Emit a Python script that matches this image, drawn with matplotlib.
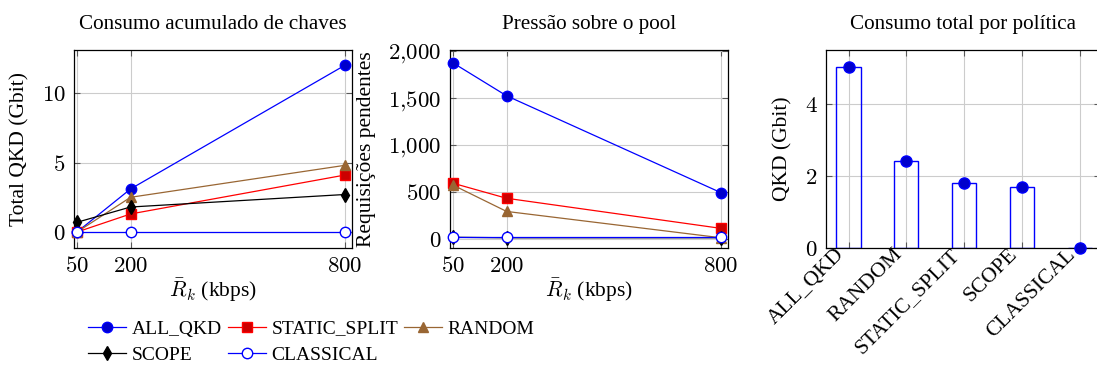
import numpy as np
import matplotlib
matplotlib.use("Agg")
import matplotlib.pyplot as plt
from matplotlib.ticker import FuncFormatter
from matplotlib.transforms import ScaledTranslation

plt.rcParams['font.family'] = ['Liberation Serif', 'DejaVu Serif']
plt.rcParams['mathtext.fontset'] = 'cm'

# data
rates = [50, 200, 800]
policies = ['ALL_QKD', 'STATIC_SPLIT', 'RANDOM', 'SCOPE', 'CLASSICAL']
total_qkd = {
    'ALL_QKD': [0.0, 3.1, 12.0],
    'STATIC_SPLIT': [0.0, 1.3, 4.1],
    'RANDOM': [0.0, 2.5, 4.8],
    'SCOPE': [0.7, 1.8, 2.7],
    'CLASSICAL': [0.0, 0.0, 0.0],
}
pending = {
    'ALL_QKD': [1870, 1520, 490],
    'STATIC_SPLIT': [590, 430, 110],
    'RANDOM': [570, 290, 10],
    'SCOPE': [15, 10, 10],
    'CLASSICAL': [15, 15, 15],
}
bar_names = ['ALL_QKD', 'RANDOM', 'STATIC_SPLIT', 'SCOPE', 'CLASSICAL']
bar_values = [5.05, 2.42, 1.80, 1.70, 0.0]

brown = (0.6, 0.4, 0.2)
styles = {
    'ALL_QKD': dict(color='blue', marker='o', mfc=(0, 0, 0.8), mec='blue', ms=7.5),
    'STATIC_SPLIT': dict(color='red', marker='s', mfc=(0.8, 0, 0), mec='red', ms=7.5),
    'RANDOM': dict(color=brown, marker='^', mfc=brown, mec=brown, ms=7.5),
    'SCOPE': dict(color='black', marker='d', mfc='black', mec='black', ms=7.5),
    'CLASSICAL': dict(color='blue', marker='o', mfc='white', mec='blue', ms=7.5),
}

W, H = 1097, 369
fig = plt.figure(figsize=(W / 100, H / 100), dpi=100)

def frac(l, t, r, b):
    return [l / W, 1 - b / H, (r - l) / W, (b - t) / H]

ax1 = fig.add_axes(frac(74, 50, 352, 248))
ax2 = fig.add_axes(frac(450, 50, 728, 248))
ax3 = fig.add_axes(frac(826, 50, 1100, 248))

mathfmt = FuncFormatter(lambda v, p: r'$%d$' % v)
commafmt = FuncFormatter(lambda v, p: r'$' + ('{:,}'.format(int(v))).replace(',', '{,}') + r'$')

def style_axes(ax):
    ax.grid(True, color='0.8', lw=0.8)
    ax.set_axisbelow(True)
    ax.tick_params(direction='in', top=True, right=True, length=4, width=0.8,
                   color='0.35', labelsize=16.5, pad=6)
    for s in ax.spines.values():
        s.set_linewidth(0.9)

handles = {}
for ax, data in [(ax1, total_qkd), (ax2, pending)]:
    for name in policies:
        st = styles[name]
        h, = ax.plot(rates, data[name], color=st['color'], lw=0.9, marker=st['marker'],
                     mfc=st['mfc'], mec=st['mec'], ms=st['ms'], clip_on=False, zorder=3)
        handles[name] = h
    ax.set_xlim(41.6, 820)
    ax.set_xticks(rates)
    ax.xaxis.set_major_formatter(mathfmt)
    ax.set_xlabel(r'$\bar{R}_k$ (kbps)', fontsize=15.5)
    ax.xaxis.set_label_coords(0.5, -(290 - 248) / 198, transform=ax.transAxes)
    ax.xaxis.label.set_va('center')
    style_axes(ax)

ax1.set_ylim(-1.15, 13.1)
ax1.set_yticks([0, 5, 10])
ax1.yaxis.set_major_formatter(mathfmt)
ax1.set_ylabel('Total QKD (Gbit)', fontsize=15.5, va='center')
ax1.yaxis.set_label_coords((20 - 74) / 278, 0.5)
ax1.set_title('Consumo acumulado de chaves', fontsize=15.2, pad=15)

ax2.set_ylim(-99, 2007)
ax2.set_yticks([0, 500, 1000, 1500, 2000])
ax2.yaxis.set_major_formatter(commafmt)
ax2.set_ylabel('Requisições pendentes', fontsize=15.5, va='center')
ax2.yaxis.set_label_coords((366 - 450) / 278, 0.5)
ax2.set_title('Pressão sobre o pool', fontsize=15.2, pad=15)

# bar chart
pos = np.arange(len(bar_names))
ax3.bar(pos, bar_values, width=0.42, fill=False, edgecolor='blue', lw=1.0, zorder=2)
ax3.plot(pos, bar_values, ls='none', marker='o', mfc=(0, 0, 0.8), mec='blue', ms=8,
         clip_on=False, zorder=4)
ax3.set_xlim(-0.39, 4.35)
ax3.set_ylim(0, 5.51)
ax3.set_yticks([0, 2, 4])
ax3.yaxis.set_major_formatter(mathfmt)
ax3.set_xticks(pos)
style_axes(ax3)
ax3.set_xticklabels(bar_names, rotation=45, ha='right', va='center',
                    rotation_mode='anchor', fontsize=15.5)
ax3.tick_params(axis='x', labelsize=15.5, pad=5)
shift = ScaledTranslation(-7 / 100, 3 / 100, fig.dpi_scale_trans)
for lab in ax3.get_xticklabels():
    lab.set_transform(lab.get_transform() + shift)
ax3.set_ylabel('QKD (Gbit)', fontsize=15.5, va='center')
ax3.yaxis.set_label_coords((783 - 826) / 274, 0.5)
ax3.set_title('Consumo total por política', fontsize=15.2, pad=15)

# legend, row-major order
order = ['ALL_QKD', 'SCOPE', 'STATIC_SPLIT', 'CLASSICAL', 'RANDOM']
fig.legend([handles[n] for n in order], order, ncol=3, frameon=False,
           loc='upper left', bbox_to_anchor=(88 / W, 1 - 320 / H), fontsize=14,
           handlelength=1.95, handletextpad=0.3, columnspacing=0.3, labelspacing=0.45,
           borderaxespad=0, borderpad=0)

fig.savefig('out.png', dpi=100)
